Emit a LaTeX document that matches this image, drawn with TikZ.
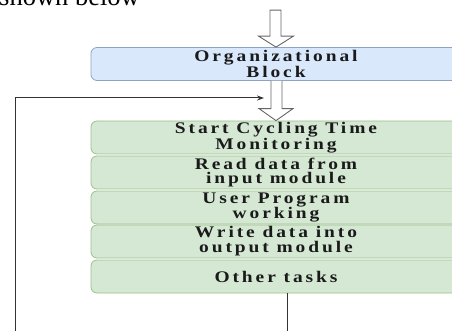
\documentclass[tikz,border=0pt]{standalone}
\usepackage{fontspec}
\setmainfont{Liberation Serif}
\newfontfamily\boxfont[FakeStretch=1.2,LetterSpace=18]{Liberation Serif}
\usetikzlibrary{arrows.meta}
\definecolor{bluefill}{HTML}{DAE8FC}
\definecolor{blueline}{HTML}{8FA3C0}
\definecolor{greenfill}{HTML}{D5E8D4}
\definecolor{greenline}{HTML}{9CC08A}
\definecolor{linegray}{HTML}{333333}
\definecolor{arrowgray}{HTML}{666666}
\definecolor{txt}{HTML}{1A1A1A}
\tikzset{
  blk/.style={rectangle, rounded corners=6pt, minimum width=370pt, minimum height=33pt,
    inner sep=0pt, align=center, text=txt,
    font=\boxfont\bfseries\fontsize{16.2}{14.8}\selectfont},
  bluebox/.style={blk, fill=bluefill, draw=blueline, line width=0.8pt},
  greenbox/.style={blk, fill=greenfill, draw=greenline, line width=0.8pt},
  hollow/.style={draw=arrowgray, fill=white, line width=0.9pt, line join=miter},
  loopline/.style={draw=linegray, line width=1pt},
}
\begin{document}
\begin{tikzpicture}[x=1pt,y=-1pt]
\useasboundingbox (0,0) rectangle (452,331);
\clip (0,0) rectangle (452,331);

\node[anchor=base west, inner sep=0pt, font=\fontsize{26.5}{26.5}\selectfont] (cap) at (-1,6) {shown below};

\node[bluebox] (ob) at (276,64) {Organizational\\Block};
\node[greenbox] (s1) at (276,137.5) {Start Cycling Time\\Monitoring};
\node[greenbox] (s2) at (276,172.5) {Read data from\\input module};
\node[greenbox] (s3) at (276,207.5) {User Program\\working};
\node[greenbox] (s4) at (276,241.5) {Write data into\\output module};
\node[greenbox] (s5) at (276,276.5) {Other tasks};

% hollow arrow into Organizational Block
\coordinate (a1tip) at (ob.north);
\draw[hollow] ([xshift=-6pt,yshift=37pt]a1tip) -- ([xshift=-6pt,yshift=11pt]a1tip)
  -- ([xshift=-17.5pt,yshift=11pt]a1tip) -- (a1tip)
  -- ([xshift=17.5pt,yshift=11pt]a1tip) -- ([xshift=5pt,yshift=11pt]a1tip)
  -- ([xshift=5pt,yshift=37pt]a1tip) -- cycle;

% hollow arrow from Organizational Block to first task
\coordinate (a2tip) at (s1.north);
\draw[hollow] ([xshift=-5pt]ob.south) -- ([xshift=-5pt,yshift=12pt]a2tip)
  -- ([xshift=-17pt,yshift=12pt]a2tip) -- (a2tip)
  -- ([xshift=17pt,yshift=12pt]a2tip) -- ([xshift=6pt,yshift=12pt]a2tip)
  -- ([xshift=6pt]ob.south);

% feedback loop
\coordinate (fb) at ([xshift=-12pt]ob.south |- 0,98);
\draw[loopline, -{Stealth[length=7pt,width=5pt]}]
  ([xshift=11pt]s5.south) |- (15,345) |- (fb);
\end{tikzpicture}
\end{document}
